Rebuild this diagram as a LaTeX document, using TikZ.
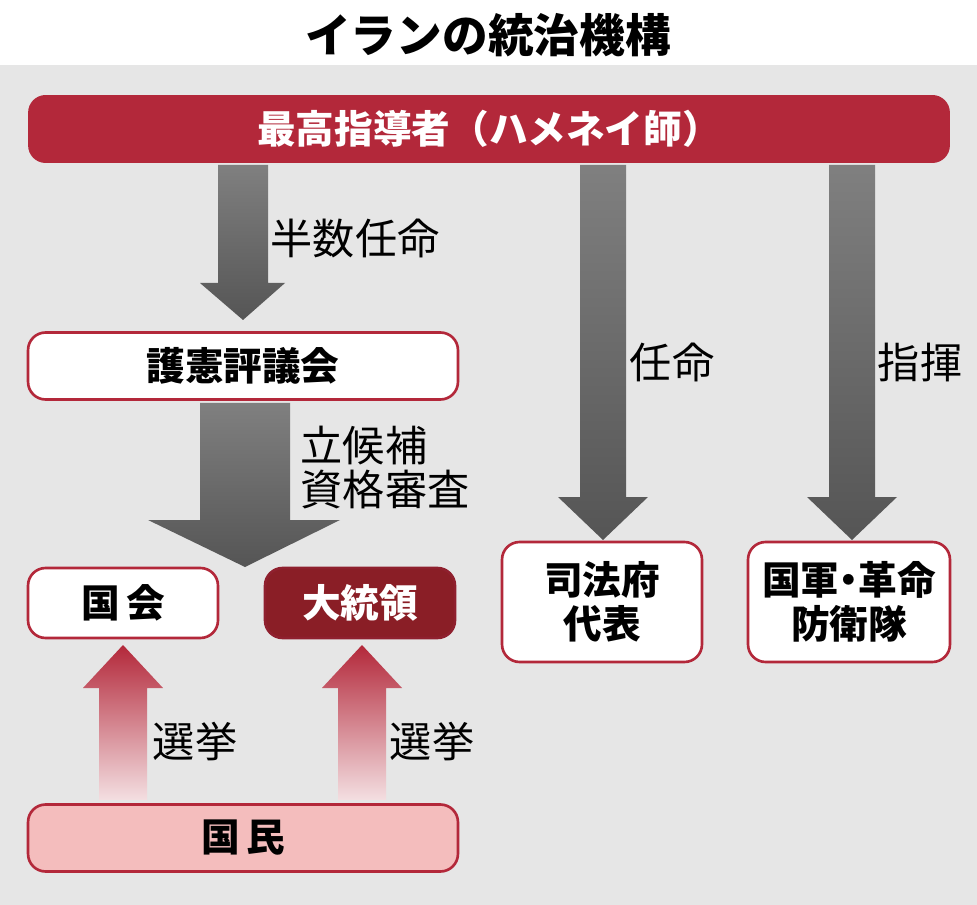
\documentclass[tikz,border=0pt]{standalone}
\usepackage{fontspec}
\setmainfont{Noto Sans CJK JP}
\definecolor{lead}{HTML}{B3283A}
\definecolor{darkred}{HTML}{8A1E26}
\definecolor{pinkfill}{HTML}{F4BDBD}
\definecolor{bggray}{HTML}{E6E6E6}
\definecolor{arrgray}{HTML}{555555}
\begin{document}
\begin{tikzpicture}[x=0.02cm,y=-0.02cm,
    box/.style={draw=lead, line width=1.5pt, rounded corners=10pt, fill=white},
    lbl/.style={font=\fontsize{21}{25}\selectfont, align=left}]
    \useasboundingbox (0,0) rectangle (977,905);
    \fill[bggray] (0,65) rectangle (977,905);
    \node (title) at (488,35) {\fontsize{26}{32}\selectfont\bfseries イランの統治機構};

    % gray arrows
    \shade[top color=arrgray!75, bottom color=arrgray] (218,165) -- (268,165) -- (268,283) -- (285,283) -- (243,320) -- (200,283) -- (218,283) -- cycle;
    \shade[top color=arrgray!75, bottom color=arrgray] (200,403) -- (290,403) -- (290,520) -- (340,520) -- (245,567) -- (148,520) -- (200,520) -- cycle;
    \shade[top color=arrgray!75, bottom color=arrgray] (580,165) -- (626,165) -- (626,497) -- (648,497) -- (603,540) -- (558,497) -- (580,497) -- cycle;
    \shade[top color=arrgray!75, bottom color=arrgray] (829,165) -- (875,165) -- (875,497) -- (897,497) -- (852,540) -- (807,497) -- (829,497) -- cycle;
    % red arrows
    \foreach \cx in {123,362}
      \shade[top color=lead, bottom color=lead!15] (\cx-24,800) -- (\cx-24,688) -- (\cx-40,688) -- (\cx,645) -- (\cx+40,688) -- (\cx+24,688) -- (\cx+24,800) -- cycle;

    \node[fill=lead, rounded corners=10pt, minimum width=18.44cm, minimum height=1.36cm, text=white] (leader) at (489,129) {\fontsize{22}{28}\selectfont\bfseries 最高指導者（ハメネイ師）};
    \node[box, minimum width=8.6cm, minimum height=1.34cm] (council) at (243,366) {\fontsize{22}{28}\selectfont\bfseries 護憲評議会};
    \node[box, minimum width=3.8cm, minimum height=1.4cm] (parl) at (123,603) {\fontsize{22}{28}\selectfont\bfseries 国\,会};
    \node[box, draw=lead!80!black, fill=darkred, text=white, minimum width=3.8cm, minimum height=1.4cm] (pres) at (360,603) {\fontsize{22}{28}\selectfont\bfseries 大統領};
    \node[box, minimum width=4cm, minimum height=2.4cm, align=center] (judic) at (602,602) {\fontsize{22}{28}\selectfont\bfseries 司法府\\[3pt]\fontsize{22}{28}\selectfont\bfseries 代表};
    \node[box, minimum width=4.04cm, minimum height=2.4cm, align=center] (army) at (849,602) {\fontsize{22}{28}\selectfont\bfseries 国軍\hspace{-0.25em}・\hspace{-0.25em}革命\\[3pt]\fontsize{22}{28}\selectfont\bfseries 防衛隊};
    \node[box, fill=pinkfill, minimum width=8.6cm, minimum height=1.34cm] (people) at (243,838) {\fontsize{22}{28}\selectfont\bfseries 国\,民};

    \node[lbl] (half) at (355,238) {\fontsize{24}{30}\selectfont 半数任命};
    \node[lbl] (screen) at (385,468) {\fontsize{24}{34}\selectfont 立候補\\\fontsize{24}{34}\selectfont 資格審査};
    \node[lbl] (appoint) at (672,362) {\fontsize{24}{30}\selectfont 任命};
    \node[lbl] (command) at (920,362) {\fontsize{24}{30}\selectfont 指揮};
    \node[lbl] (vote1) at (195,742) {\fontsize{24}{30}\selectfont 選挙};
    \node[lbl] (vote2) at (432,742) {\fontsize{24}{30}\selectfont 選挙};
\end{tikzpicture}
\end{document}
